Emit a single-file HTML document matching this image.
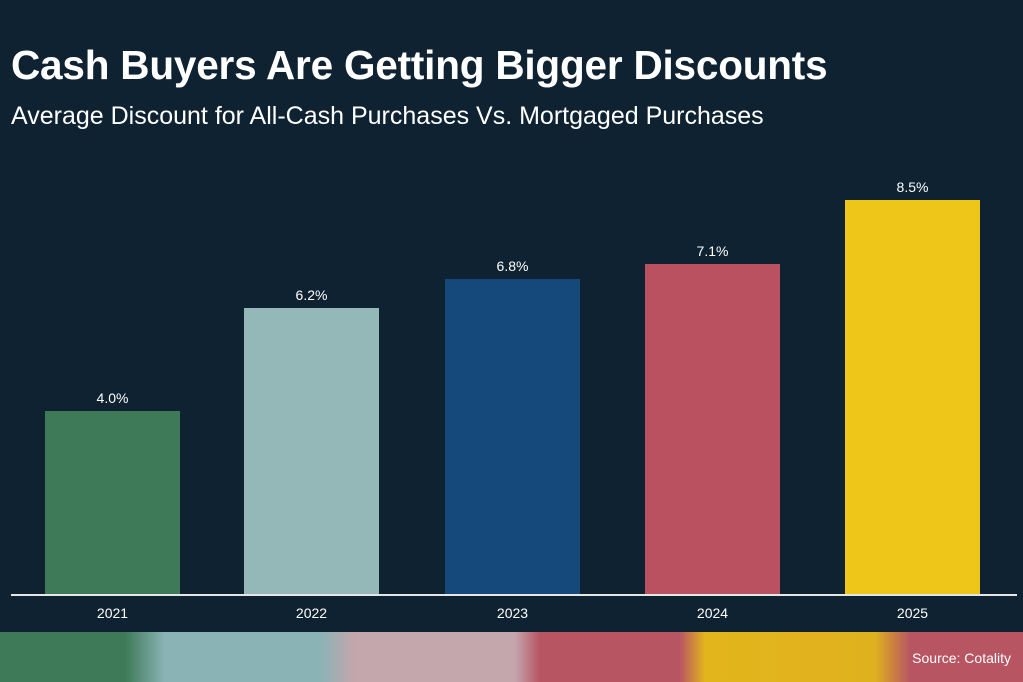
<!DOCTYPE html>
<html><head><style>
body{margin:0;width:1023px;height:682px;background:#0f2231;overflow:hidden;position:relative;font-family:"Liberation Sans",Arial,sans-serif;color:#fff}
.t{position:absolute;left:11px;top:42px;font-size:40.5px;font-weight:bold;letter-spacing:-0.2px;white-space:nowrap}
.s{position:absolute;left:11px;top:102px;font-size:25px;white-space:nowrap}
.b{position:absolute;width:135px;bottom:88px}
.v{position:absolute;width:135px;text-align:center;font-size:14px}
.x{position:absolute;width:135px;text-align:center;font-size:14px;top:605px}
.axis{position:absolute;left:11px;width:1006px;top:594px;height:2px;background:#e6e6e6}
.strip{position:absolute;left:0;top:632px;width:1023px;height:50px;background:linear-gradient(90deg,#3e7a58 0,#3e7a58 125px,#8ab3b5 165px,#8ab3b5 320px,#c4a6ad 355px,#c4a6ad 515px,#b85563 540px,#b85563 680px,#e3b51c 705px,#e0b11e 875px,#b85563 910px,#b85563 1023px)}
.src{position:absolute;right:12px;top:650px;font-size:14px}
</style></head><body>
<div class="t">Cash Buyers Are Getting Bigger Discounts</div>
<div class="s">Average Discount for All-Cash Purchases Vs. Mortgaged Purchases</div>
<div class="b" style="left:45px;top:411px;background:#3e7a58"></div>
<div class="b" style="left:244px;top:308px;background:#94b7b8"></div>
<div class="b" style="left:445px;top:279px;background:#15497c"></div>
<div class="b" style="left:645px;top:264px;background:#ba5160"></div>
<div class="b" style="left:845px;top:200px;background:#eec619"></div>
<div class="v" style="left:45px;top:390px">4.0%</div>
<div class="v" style="left:244px;top:287px">6.2%</div>
<div class="v" style="left:445px;top:258px">6.8%</div>
<div class="v" style="left:645px;top:243px">7.1%</div>
<div class="v" style="left:845px;top:179px">8.5%</div>
<div class="axis"></div>
<div class="x" style="left:45px">2021</div>
<div class="x" style="left:244px">2022</div>
<div class="x" style="left:445px">2023</div>
<div class="x" style="left:645px">2024</div>
<div class="x" style="left:845px">2025</div>
<div class="strip"></div>
<div class="src">Source: Cotality</div>
</body></html>
